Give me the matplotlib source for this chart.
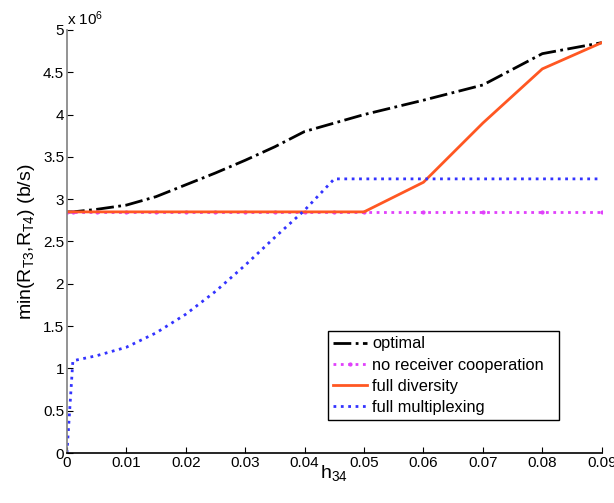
import matplotlib
matplotlib.use('Agg')
import matplotlib.pyplot as plt
import numpy as np

plt.rcParams['font.family'] = ['Liberation Sans', 'DejaVu Sans']
plt.rcParams['mathtext.fontset'] = 'custom'
plt.rcParams['mathtext.rm'] = 'Liberation Sans'
plt.rcParams['mathtext.it'] = 'Liberation Sans:italic'

# h34 values and rates (x 10^6 b/s)
h34 = [0, 0.001, 0.005, 0.01, 0.015, 0.02, 0.025, 0.03, 0.035, 0.04, 0.045,
       0.05, 0.06, 0.07, 0.08, 0.09]
optimal = [2.85, 2.85, 2.88, 2.93, 3.03, 3.17, 3.31, 3.46, 3.62, 3.80, 3.90,
           4.00, 4.17, 4.35, 4.72, 4.85]
no_coop = [2.85] * 16
full_div = [2.85, 2.85, 2.85, 2.85, 2.85, 2.85, 2.85, 2.85, 2.85, 2.85, 2.85,
            2.85, 3.20, 3.90, 4.54, 4.85]
full_mux = [0, 1.09, 1.15, 1.25, 1.42, 1.64, 1.91, 2.22, 2.55, 2.87, 3.24,
            3.24, 3.24, 3.24, 3.24, 3.24]

fig = plt.figure(figsize=(6.14, 5.03), dpi=100)
ax = fig.add_axes([0.109, 0.0994, 0.871, 0.841])

ax.plot(h34, optimal, color='black', linestyle='-.', linewidth=2, label='optimal')
ax.plot(h34, no_coop, color='#E040FB', linestyle=':', linewidth=2, marker='.',
        markersize=4, label='no receiver cooperation')
ax.plot(h34, full_div, color='#FF5722', linestyle='-', linewidth=2, label='full diversity')
ax.plot(h34, full_mux, color='#3333FF', linestyle=':', linewidth=2, label='full multiplexing')

ax.set_xlim(0, 0.09)
ax.set_ylim(0, 5)
ax.set_xticks(np.arange(0, 0.091, 0.01))
ax.set_xticklabels(['0'] + ['%.2f' % v for v in np.arange(0.01, 0.091, 0.01)])
ax.set_yticks(np.arange(0, 5.01, 0.5))
ax.set_yticklabels(['%g' % v for v in np.arange(0, 5.01, 0.5)])
ax.tick_params(direction='in', length=4, labelsize=11, pad=2)

ax.spines['top'].set_visible(False)
ax.spines['right'].set_visible(False)
ax.spines['left'].set_color('0.5')
ax.spines['left'].set_linewidth(1.2)
ax.spines['bottom'].set_linewidth(1.2)

ax.text(0.0, 1.005, r'x 10$^{6}$', transform=ax.transAxes, fontsize=11,
        ha='left', va='bottom')

ax.set_xlabel(r'h$_{34}$', fontsize=14, labelpad=-5)
ax.set_ylabel(r'min(R$_{\mathrm{T3}}$,R$_{\mathrm{T4}}$) (b/s)', fontsize=14, labelpad=4)

leg = ax.legend(loc='lower left', bbox_to_anchor=(0.488, 0.078, 0.432, 0.217),
                mode='expand', fontsize=11.8, fancybox=False, framealpha=1,
                edgecolor='black', handlelength=2.1, handletextpad=0.3,
                borderpad=0.3, labelspacing=0.38, borderaxespad=0)
leg.get_frame().set_linewidth(1)

plt.savefig('out.png', dpi=100)
